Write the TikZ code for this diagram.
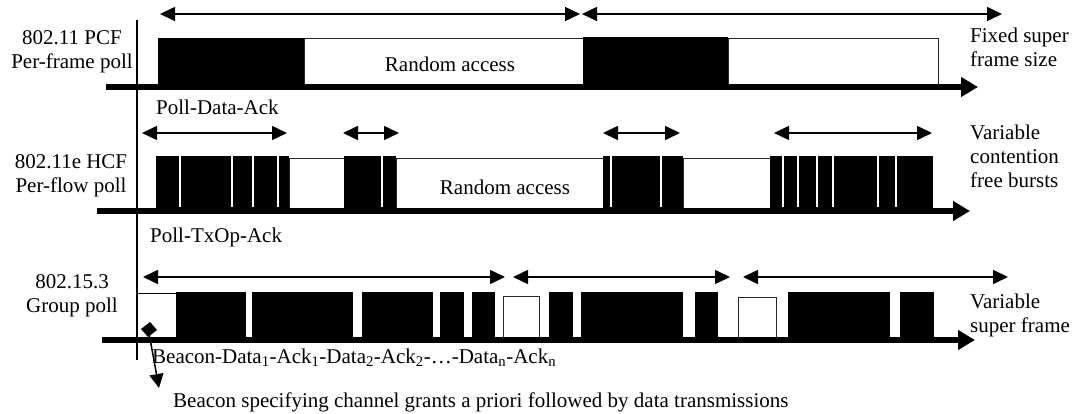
\documentclass[tikz,border=0pt]{standalone}
\usepackage{fontspec}
\setmainfont{Liberation Serif}
\usetikzlibrary{arrows.meta,shapes.geometric}
\begin{document}
\begin{tikzpicture}[x=1pt,y=-1pt,
  lbl/.style={font=\fontsize{21}{24}\selectfont, inner sep=0pt},
  wbox/.style={draw=black!85, line width=1pt, fill=white},
  gap/.style={draw=white, line width=2.5pt},
  tl/.style={line width=6pt, -{Triangle[length=17pt,width=19pt]}},
  span/.style={line width=1.5pt, {Triangle[length=15pt,width=14pt]}-{Triangle[length=15pt,width=14pt]}},
]
\useasboundingbox (0,0) rectangle (1075,414);
% vertical axis
\draw[line width=2pt] (137,20) -- (137,360);

% ---------- Row 1: 802.11 PCF ----------
\fill (158,38) rectangle (304,87);
\draw[wbox] (304,39) rectangle (583,87);
\fill (583,37) rectangle (728,87);
\draw[wbox] (728,39) rectangle (938,87);
\draw[tl] (106,87) -- (978,87);
\draw[span] (160,14) -- (580,14);
\draw[span] (582,14) -- (1002,14);
\node[lbl, align=center] (pcf) at (72,52) {802.11 PCF\\Per-frame poll};
\node[lbl] (ra1) at (450,64) {Random access};
\node[lbl, align=left, anchor=west] (fixed) at (970,47) {Fixed super\\frame size};
\node[lbl, anchor=west] (pda) at (156,107) {Poll-Data-Ack};

% ---------- Row 2: 802.11e HCF ----------
\fill (156,156) rectangle (289,211);
\foreach \x in {180,232,253,278} \draw[gap] (\x,156) -- (\x,207);
\draw[wbox] (289,159) rectangle (344,211);
\fill (344,156) rectangle (396,211);
\draw[gap] (382,156) -- (382,207);
\draw[wbox] (396,159) rectangle (603,211);
\fill (603,156) rectangle (683,211);
\foreach \x in {611,661} \draw[gap] (\x,156) -- (\x,207);
\draw[wbox] (683,159) rectangle (770,211);
\fill (770,156) rectangle (933,211);
\foreach \x in {783,798,817,833,878,896} \draw[gap] (\x,156) -- (\x,207);
\draw[tl] (97,211) -- (970,211);
\draw[span] (142,133) -- (287,133);
\draw[span] (343,133) -- (399,133);
\draw[span] (603,133) -- (680,133);
\draw[span] (774,133) -- (932,133);
\node[lbl, align=center] (hcf) at (71,176) {802.11e HCF\\Per-flow poll};
\node[lbl] (ra2) at (505,187) {Random access};
\node[lbl, align=left, anchor=west] (varc) at (970,156) {Variable\\contention\\free bursts};
\node[lbl, anchor=west] (pta) at (150,237) {Poll-TxOp-Ack};

% ---------- Row 3: 802.15.3 ----------
\draw[line width=1pt] (137,293) -- (176,293);
\foreach \a/\b in {176/246,252/353,362/433,440/464,472/495,549/573,581/683,695/718,788/890,900/934}
  \fill (\a,292) rectangle (\b,340);
\draw[wbox] (503,296) rectangle (539,340);
\draw[wbox] (738,297) rectangle (776,340);
\draw[tl] (102,340) -- (975,340);
\draw[span] (143,277) -- (505,277);
\draw[span] (513,277) -- (730,277);
\draw[span] (743,277) -- (1008,277);
\node[lbl, align=center] (grp) at (72,296) {802.15.3\\Group poll};
\node[lbl, align=left, anchor=west] (vsf) at (970,315) {Variable\\super frame};
\node[lbl, anchor=west] (seq) at (152,358) {Beacon-Data\textsubscript{1}-Ack\textsubscript{1}-Data\textsubscript{2}-Ack\textsubscript{2}-…-Data\textsubscript{n}-Ack\textsubscript{n}};
\node[lbl, anchor=west] (bnote) at (173,402) {Beacon specifying channel grants a priori followed by data transmissions};
% beacon marker
\fill (141,329) -- (150,322) -- (157,330) -- (148,337) -- cycle;
\coordinate (bcn) at (149,333);
\coordinate (bcnend) at (159,388);
\draw[line width=1.5pt, -{Triangle[length=14pt,width=14pt]}] (bcn) -- (bcnend);
\end{tikzpicture}
\end{document}
